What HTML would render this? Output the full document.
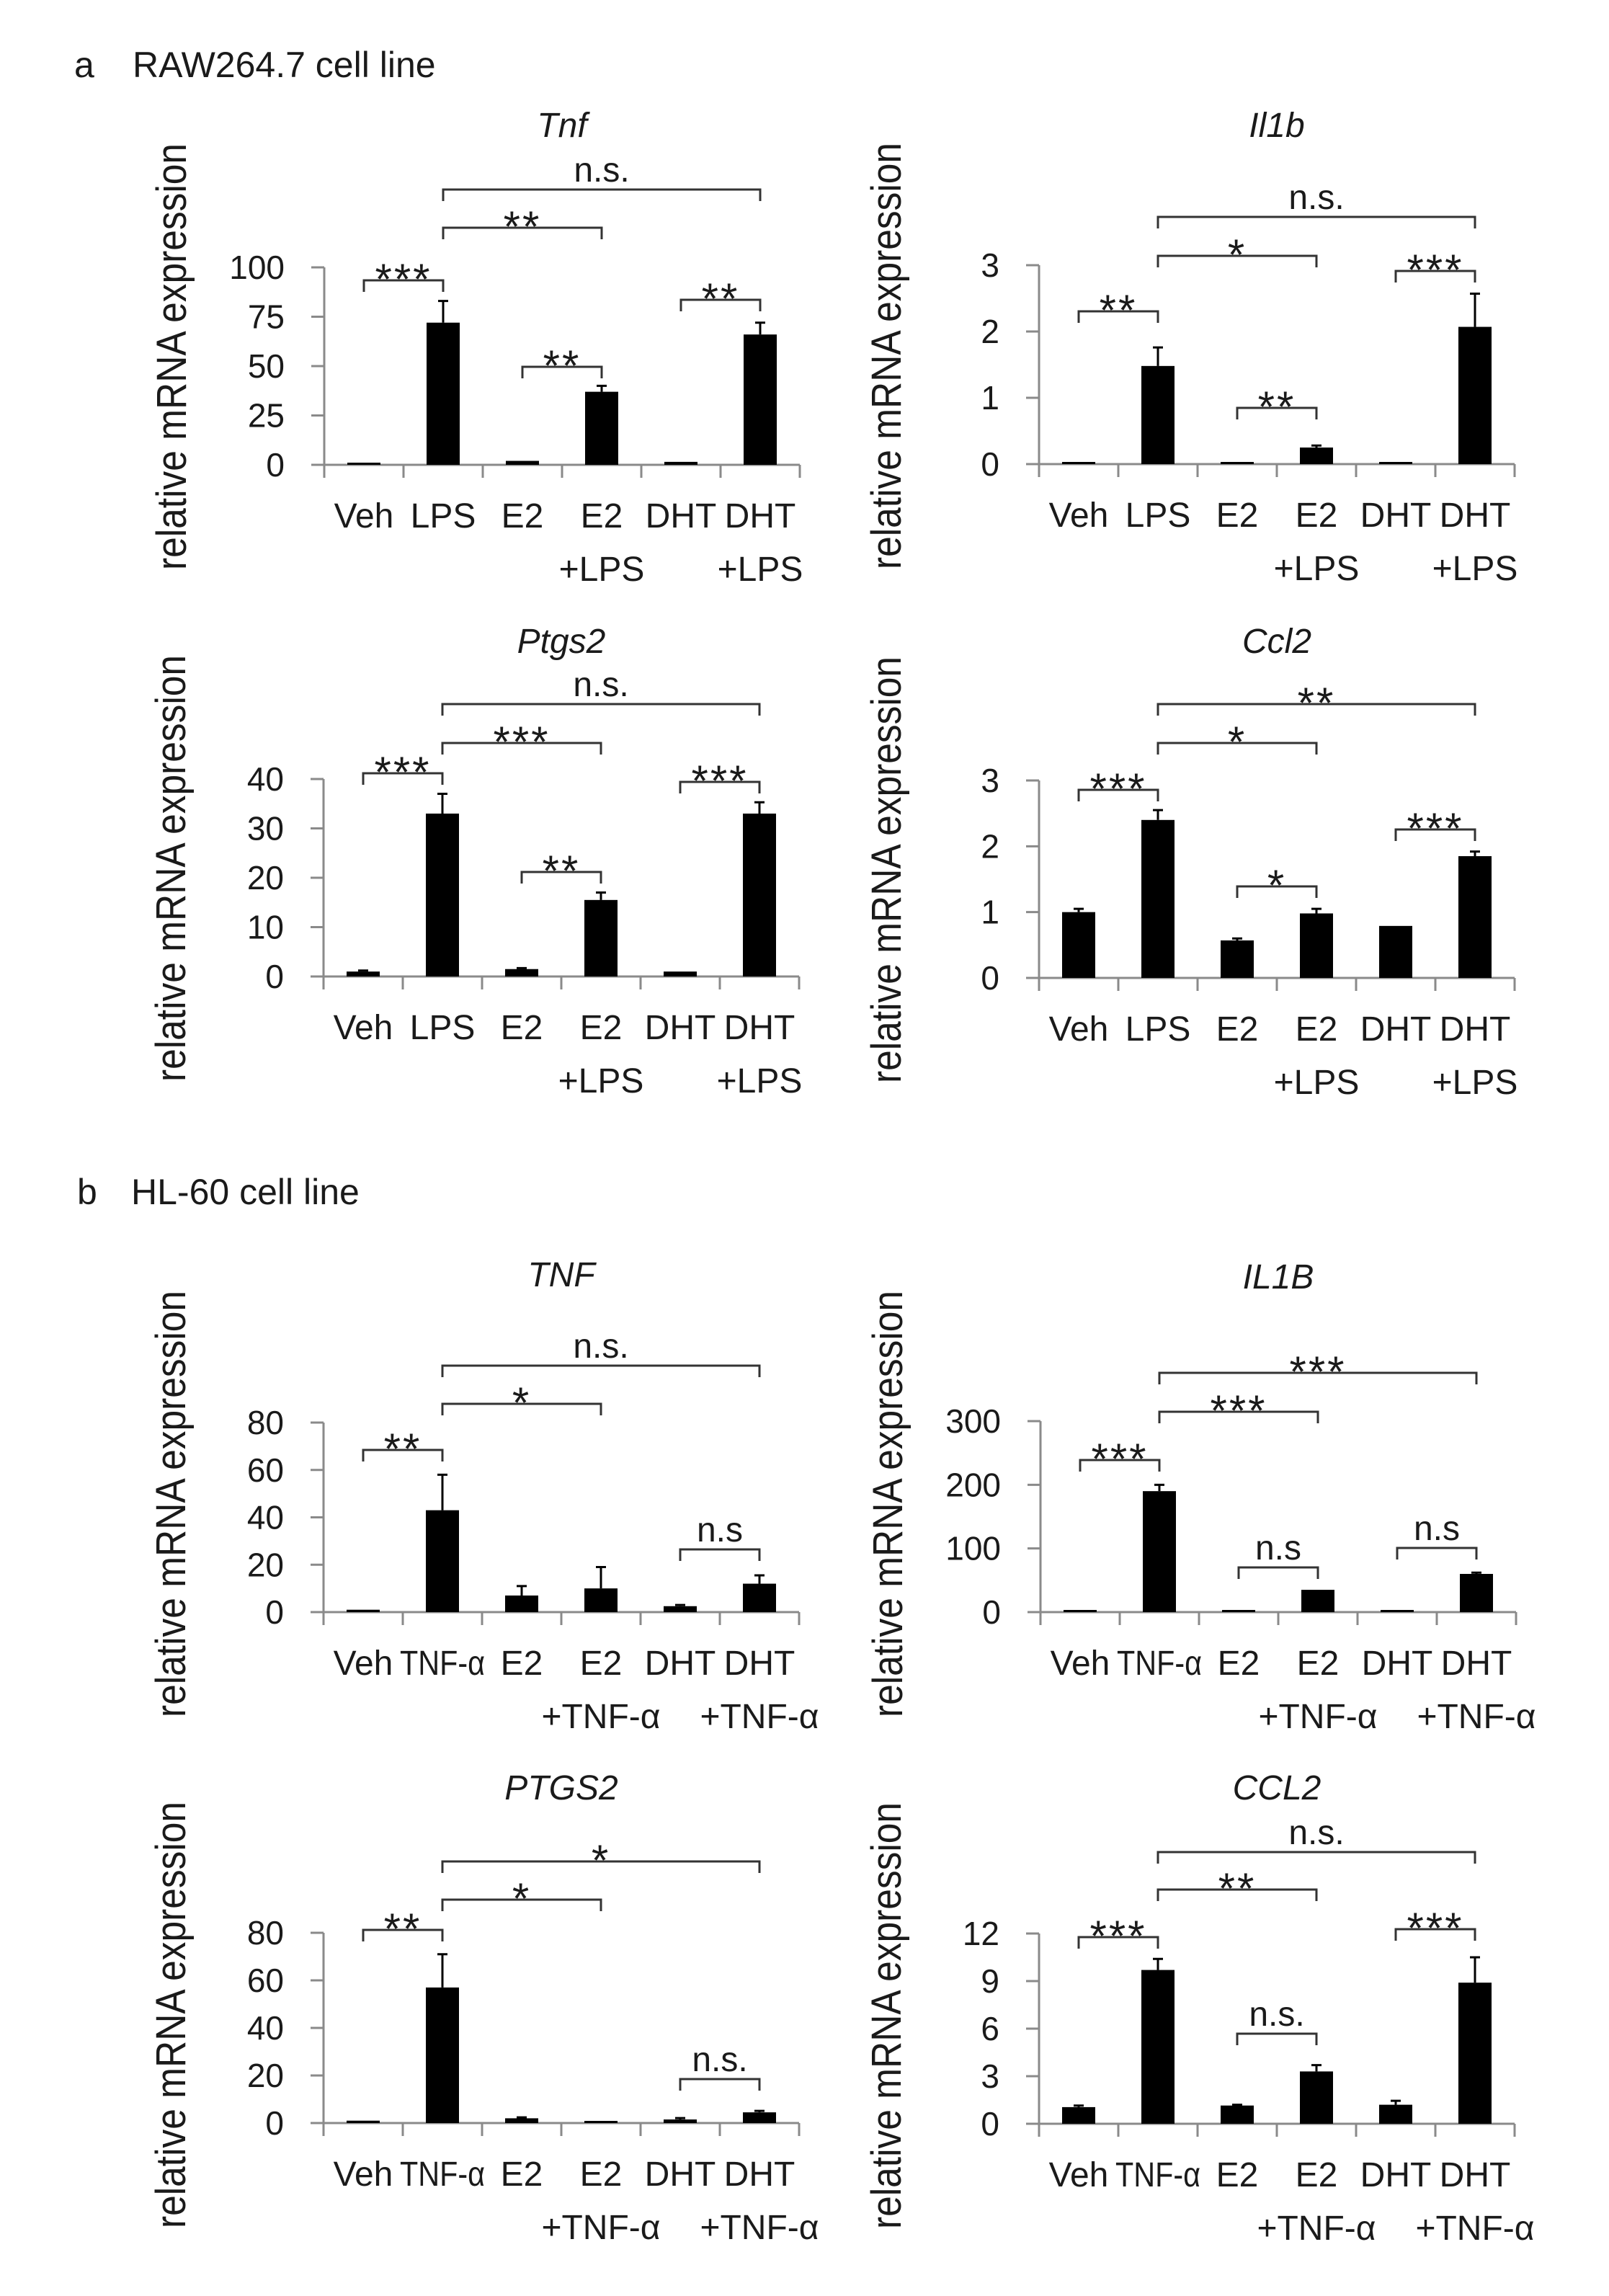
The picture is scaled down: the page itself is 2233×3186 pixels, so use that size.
<!DOCTYPE html>
<html><head><meta charset="utf-8">
<style>
html,body{margin:0;padding:0;background:#fff;}
svg{display:block;}
text{font-family:"Liberation Sans",sans-serif;fill:#1a1a1a;}
</style></head>
<body>
<svg id="fig" width="2233" height="3186" viewBox="0 0 2233 3186" xmlns="http://www.w3.org/2000/svg">
<text x="103" y="107" font-size="50">a</text>
<text x="184" y="107" font-size="50">RAW264.7 cell line</text>
<text x="107" y="1671" font-size="50">b</text>
<text x="182" y="1671" font-size="50">HL-60 cell line</text>
</svg>
<script>
// ---- data ----
const catsA = [["Veh"],["LPS"],["E2"],["E2","+LPS"],["DHT"],["DHT","+LPS"]];
const catsB = [["Veh"],["TNF-α"],["E2"],["E2","+TNF-α"],["DHT"],["DHT","+TNF-α"]];

const tnfVals = [1, 72, 2, 37, 1.5, 66];
const tnfErr = [0.3, 11, 0.3, 3, 0.3, 6];
const tnfTicks = [0, 25, 50, 75, 100];
const tnfSig = ["***", "**", "n.s.", "**", "**"];

const il1bVals = [0.01, 1.48, 0.03, 0.25, 0.02, 2.07];
const il1bErr = [0, 0.28, 0.01, 0.03, 0.01, 0.5];
const il1bTicks = [0, 1, 2, 3];
const il1bSig = ["**", "*", "n.s.", "**", "***"];

const ptgs2Vals = [1, 33, 1.5, 15.5, 1, 33];
const ptgs2Err = [0.2, 4, 0.2, 1.5, 0.1, 2.3];
const ptgs2Ticks = [0, 10, 20, 30, 40];
const ptgs2Sig = ["***", "***", "n.s.", "**", "***"];

const ccl2Vals = [1.0, 2.4, 0.57, 0.98, 0.79, 1.85];
const ccl2Err = [0.05, 0.15, 0.03, 0.07, 0.01, 0.07];
const ccl2Ticks = [0, 1, 2, 3];
const ccl2Sig = ["***", "*", "**", "*", "***"];

const hTnfVals = [1, 43, 7, 10, 2.5, 12];
const hTnfErr = [0.3, 15, 4, 9, 0.5, 3.5];
const hTnfTicks = [0, 20, 40, 60, 80];
const hTnfSig = ["**", "*", "n.s.", null, "n.s"];

const hIl1bVals = [1, 190, 1, 35, 1, 60];
const hIl1bErr = [0, 10, 0, 1, 0, 2];
const hIl1bTicks = [0, 100, 200, 300];
const hIl1bSig = ["***", "***", "***", "n.s", "n.s"];

const hPtgs2Vals = [1, 57, 2, 0.8, 1.5, 4.5];
const hPtgs2Err = [0.3, 14, 0.4, 0.2, 0.6, 0.6];
const hPtgs2Ticks = [0, 20, 40, 60, 80];
const hPtgs2Sig = ["**", "*", "*", null, "n.s."];

const hCcl2Vals = [1.05, 9.7, 1.15, 3.3, 1.2, 8.9];
const hCcl2Err = [0.1, 0.7, 0.05, 0.4, 0.25, 1.6];
const hCcl2Ticks = [0, 3, 6, 9, 12];
const hCcl2Sig = ["***", "**", "n.s.", "n.s.", "***"];

const pairs = [[0,1],[1,3],[1,5],[2,3],[4,5]];

// ---- layout ----
const panels = [
 {name:"tnf", title:"Tnf", cats:catsA, vals:tnfVals, err:tnfErr, ticks:tnfTicks, sig:tnfSig, ax:450, yTop:371, y0:645, ty:173, by:[389,316,263,509,416]},
 {name:"il1b", title:"Il1b", cats:catsA, vals:il1bVals, err:il1bErr, ticks:il1bTicks, sig:il1bSig, ax:1442, yTop:368, y0:644, ty:173, by:[432,355,301,566,376]},
 {name:"ptgs2", title:"Ptgs2", cats:catsA, vals:ptgs2Vals, err:ptgs2Err, ticks:ptgs2Ticks, sig:ptgs2Sig, ax:449, yTop:1081, y0:1355, ty:889, by:[1073,1031,977,1210,1085]},
 {name:"ccl2", title:"Ccl2", cats:catsA, vals:ccl2Vals, err:ccl2Err, ticks:ccl2Ticks, sig:ccl2Sig, ax:1442, yTop:1083, y0:1357, ty:889, by:[1096,1031,977,1230,1151]},
 {name:"human-tnf", title:"TNF", cats:catsB, vals:hTnfVals, err:hTnfErr, ticks:hTnfTicks, sig:hTnfSig, ax:449, yTop:1974, y0:2237, ty:1768, by:[2012,1948,1895,0,2150]},
 {name:"human-il1b", title:"IL1B", cats:catsB, vals:hIl1bVals, err:hIl1bErr, ticks:hIl1bTicks, sig:hIl1bSig, ax:1444, yTop:1972, y0:2237, ty:1771, by:[2026,1959,1905,2175,2148]},
 {name:"human-ptgs2", title:"PTGS2", cats:catsB, vals:hPtgs2Vals, err:hPtgs2Err, ticks:hPtgs2Ticks, sig:hPtgs2Sig, ax:449, yTop:2682, y0:2946, ty:2480, by:[2678,2636,2583,0,2885]},
 {name:"human-ccl2", title:"CCL2", cats:catsB, vals:hCcl2Vals, err:hCcl2Err, ticks:hCcl2Ticks, sig:hCcl2Sig, ax:1442, yTop:2683, y0:2947, ty:2480, by:[2688,2622,2570,2822,2677]}
];

const NS = "http://www.w3.org/2000/svg";
const svg = document.getElementById("fig");
function mk(tag, attrs, parent){
  const e = document.createElementNS(NS, tag);
  for (const k in attrs) e.setAttribute(k, attrs[k]);
  (parent||svg).appendChild(e);
  return e;
}

panels.forEach(p => {
  const g = mk("g", {});
  
  
  const catW = 110;
  const ymax = p.ticks[p.ticks.length-1];
  const yScale = v => p.y0 - (v / ymax) * (p.y0 - p.yTop);
  const xCenter = i => p.ax + catW/2 + catW*i;
  const xEnd = p.ax + catW*p.cats.length;

  const t = mk("text", {x:p.ax+330, y:p.ty+17, "font-size":48, "font-style":"italic", "text-anchor":"middle"}, g);
  t.textContent = p.title;
  
  

  const cy = p.y0 - 150;
  const yt = mk("text", {x:0, y:0, "font-size":58, "text-anchor":"middle", textLength:592, lengthAdjust:"spacingAndGlyphs",
    transform:`translate(${p.ax-192},${cy}) rotate(-90)`}, g);
  yt.textContent = "relative mRNA expression";
  
  

  const ya = mk("line", {x1:p.ax, y1:p.yTop, x2:p.ax, y2:p.y0+18, stroke:"#8a8a8a", "stroke-width":3}, g);
  
  
  const xa = mk("line", {x1:p.ax-18, y1:p.y0, x2:xEnd, y2:p.y0, stroke:"#8a8a8a", "stroke-width":3}, g);
  
  
  for (let i=1;i<=p.cats.length;i++){
    const tk = mk("line", {x1:p.ax+catW*i, y1:p.y0, x2:p.ax+catW*i, y2:p.y0+18, stroke:"#8a8a8a", "stroke-width":3}, g);
    
    
  }
  p.ticks.forEach(v => {
    const y = yScale(v);
    const tk = mk("line", {x1:p.ax-18, y1:y, x2:p.ax, y2:y, stroke:"#8a8a8a", "stroke-width":3}, g);
    
    
    const tl = mk("text", {x:p.ax-55, y:y+16, "font-size":46, "text-anchor":"end"}, g);
    tl.textContent = v;
    
    
  });

  p.vals.forEach((v,i) => {
    const cx = xCenter(i);
    const top = yScale(v);
    const h = Math.max(p.y0 - top, 3);
    const b = mk("rect", {x:cx-23, y:p.y0-h, width:46, height:h, fill:"#000"}, g);
    
    
    const e = p.err[i];
    if (e > 0) {
      const ye = yScale(v + e);
      if (p.y0 - h - ye > 1) {
        const el = mk("path", {d:`M${cx},${p.y0-h} V${ye} M${cx-7},${ye} H${cx+7}`, stroke:"#000", "stroke-width":3, fill:"none"}, g);
        
        
      }
    }
    p.cats[i].forEach((line, li) => {
      const attrs = {x:cx, y:p.y0 + (li===0 ? 87 : 161), "font-size":48, "text-anchor":"middle"};
      if (line === "TNF-α") { attrs.textLength = 118; attrs.lengthAdjust = "spacingAndGlyphs"; }
      const tl = mk("text", attrs, g);
      tl.textContent = line;
      
      
    });
  });

  pairs.forEach((pr, k) => {
    const lab = p.sig[k];
    if (!lab) return;
    const y = p.by[k];
    const x1 = xCenter(pr[0]), x2 = xCenter(pr[1]);
    const br = mk("path", {d:`M${x1},${y+16} V${y} H${x2} V${y+16}`, stroke:"#333", "stroke-width":3, fill:"none"}, g);
    
    
    const isStar = lab.indexOf("*") === 0;
    const st = mk("text", {x:(x1+x2)/2, y: isStar ? y+19 : y-11, "font-size": isStar ? 60 : 48, "text-anchor":"middle", "letter-spacing": isStar ? 3 : 0}, g);
    st.textContent = lab;
    
    
  });
});
</script>
</body></html>
